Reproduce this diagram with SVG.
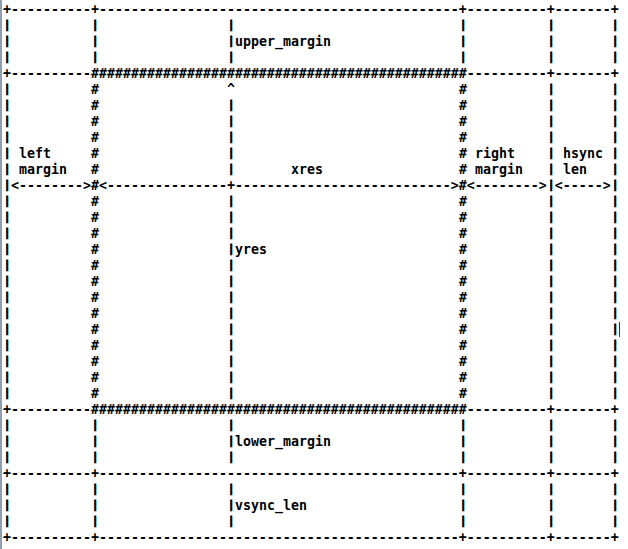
<svg xmlns="http://www.w3.org/2000/svg" width="628" height="549" viewBox="0 0 628 549">
<style>
text{font-family:"DejaVu Sans Mono","Liberation Mono",monospace;font-size:13.29px;font-weight:bold;fill:#000;white-space:pre}
.v text{font-size:10.5px;stroke:#000;stroke-width:0.9px}
</style>
<rect x="0" y="0" width="628" height="549" fill="#fff"/>
<rect x="0" y="0" width="2" height="549" fill="#8e9fb3"/>
<g id="connectors">
<text x="3" y="14">+----------+---------------------------------------------+----------+-------+</text>
<text x="3" y="78">+----------###############################################----------+-------+</text>
<text x="3" y="190"> &lt;--------&gt;#&lt;---------------+---------------------------&gt;#&lt;--------&gt; &lt;-----&gt; </text>
<text x="3" y="414">+----------###############################################----------+-------+</text>
<text x="3" y="478">+----------+---------------------------------------------+----------+-------+</text>
<text x="3" y="542">+----------+---------------------------------------------+----------+-------+</text>
<text id="hash11" x="91 91 91 91 91 91 91 91 91 91 91 91 91 91 91 91 91 91 91" y="94 110 126 142 158 174 206 222 238 254 270 286 302 318 334 350 366 382 398">###################</text>
<text id="hash57" x="459 459 459 459 459 459 459 459 459 459 459 459 459 459 459 459 459 459 459" y="94 110 126 142 158 174 206 222 238 254 270 286 302 318 334 350 366 382 398">###################</text>
<text id="caret28" x="227" y="94">^</text>
<g class="v" transform="translate(0,-2)">
<text id="col0" x="4 4 4 4 4 4 4 4 4 4 4 4 4 4 4 4 4 4 4 4 4 4 4 4 4 4 4 4 4" y="30 46 62 94 110 126 142 158 174 190 206 222 238 254 270 286 302 318 334 350 366 382 398 430 446 462 494 510 526">|||||||||||||||||||||||||||||</text>
<text id="col11a" x="92 92 92" y="30 46 62">|||</text>
<text id="col11b" x="92 92 92" y="430 446 462">|||</text>
<text id="col11c" x="92 92 92" y="494 510 526">|||</text>
<text id="col28a" x="228 228 228" y="30 46 62">|||</text>
<text id="col28b" x="228 228 228 228 228 228 228 228 228 228 228 228 228 228 228 228 228 228 228 228 228 228 228 228" y="110 126 142 158 174 206 222 238 254 270 286 302 318 334 350 366 382 398 430 446 462 494 510 526">||||||||||||||||||||||||</text>
<text id="col57a" x="460 460 460" y="30 46 62">|||</text>
<text id="col57b" x="460 460 460" y="430 446 462">|||</text>
<text id="col57c" x="460 460 460" y="494 510 526">|||</text>
<text id="col68" x="548 548 548 548 548 548 548 548 548 548 548 548 548 548 548 548 548 548 548 548 548 548 548 548 548 548 548 548 548" y="30 46 62 94 110 126 142 158 174 190 206 222 238 254 270 286 302 318 334 350 366 382 398 430 446 462 494 510 526">|||||||||||||||||||||||||||||</text>
<text id="col76" x="612 612 612 612 612 612 612 612 612 612 612 612 612 612 612 612 612 612 612 612 612 612 612 612 612 612 612 612 612" y="30 46 62 94 110 126 142 158 174 190 206 222 238 254 270 286 302 318 334 350 366 382 398 430 446 462 494 510 526">|||||||||||||||||||||||||||||</text>
</g>
</g>
<g id="upper_margin"><text x="235" y="46">upper_margin</text></g>
<g id="left_margin"><text x="19" y="158">left</text><text x="19" y="174">margin</text></g>
<g id="xres"><text x="291" y="174">xres</text></g>
<g id="right_margin"><text x="475" y="158">right</text><text x="475" y="174">margin</text></g>
<g id="hsync_len"><text x="563" y="158">hsync</text><text x="563" y="174">len</text></g>
<g id="yres"><text x="235" y="254">yres</text></g>
<g id="lower_margin"><text x="235" y="446">lower_margin</text></g>
<g id="vsync_len"><text x="235" y="510">vsync_len</text></g>
<line x1="619.5" y1="322" x2="619.5" y2="337" stroke="#333" stroke-width="1"/>
</svg>
